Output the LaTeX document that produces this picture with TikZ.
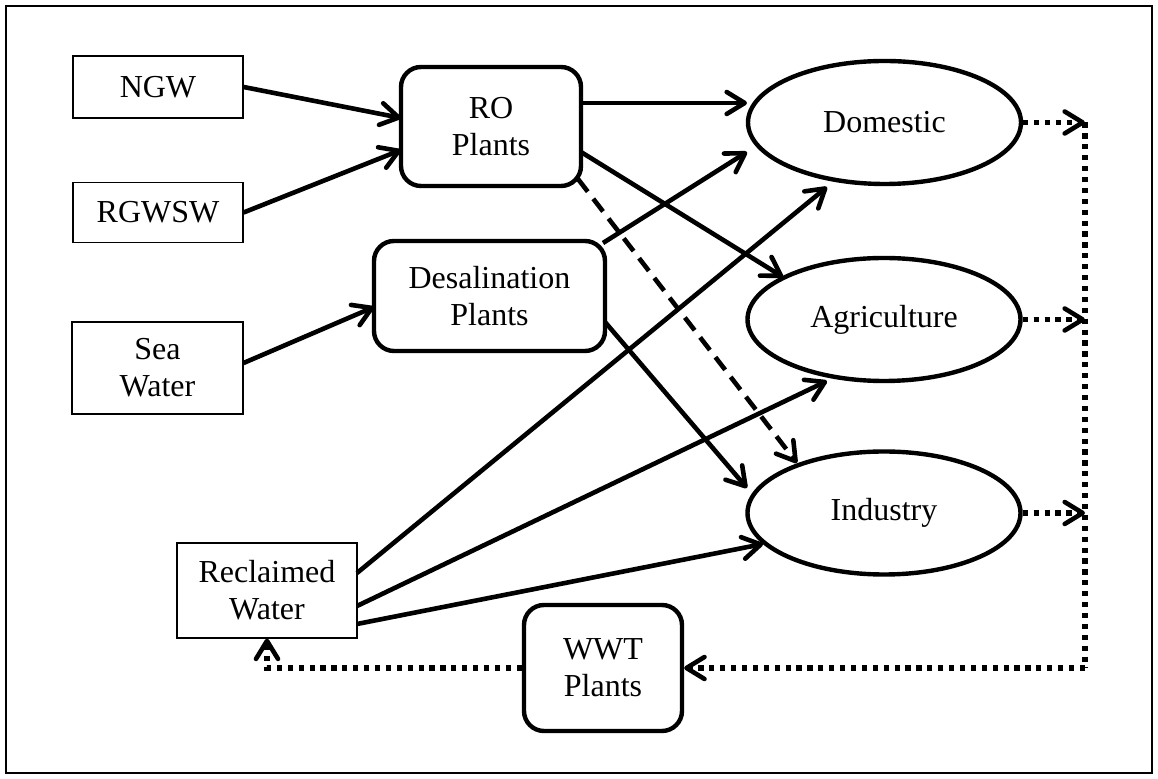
\documentclass[tikz,border=0pt]{standalone}
\usepackage{fontspec}
\setmainfont{Liberation Serif}
\usetikzlibrary{arrows.meta,shapes.geometric,calc}
\begin{document}
\begin{tikzpicture}[x=0.5pt,y=-0.5pt,
  font=\fontsize{16}{18.4}\selectfont,
  thinbox/.style={draw,line width=0.6pt,inner sep=0pt,align=center},
  plantbox/.style={draw,line width=2.2pt,rounded corners=10pt,inner sep=0pt,align=center},
  usebox/.style={draw,ellipse,line width=2.2pt,inner sep=0pt,minimum width=136.5pt,minimum height=61.5pt},
  flow/.style={line width=2.3pt,-{Straight Barb[length=9pt,width=11pt,round]}},
  dflow/.style={flow,dash pattern=on 8pt off 4.5pt},
  rflow/.style={line width=2.6pt,dash pattern=on 2.6pt off 2.85pt},
  rarrow/.style={rflow,-{Straight Barb[length=9pt,width=11pt,round,line width=2.3pt]}}
]
\useasboundingbox (0,0) rectangle (1158,779);
\draw[line width=0.6pt] (6,6) rectangle (1152,773);

\node[thinbox,minimum width=85pt,minimum height=31pt] (NGW) at (158,87) {NGW};
\node[thinbox,minimum width=85pt,minimum height=30pt] (RGW) at (158,212.5) {RGWSW};
\node[thinbox,minimum width=85.5pt,minimum height=46pt] (Sea) at (157.5,368) {Sea\\Water};
\node[thinbox,minimum width=90pt,minimum height=47.5pt] (Rec) at (267,590.5) {Reclaimed\\Water};

\node[plantbox,minimum width=90pt,minimum height=59.5pt] (RO) at (491,126.5) {RO\\Plants};
\node[plantbox,minimum width=115.5pt,minimum height=55pt] (Des) at (489.5,296) {Desalination\\Plants};
\node[plantbox,minimum width=79pt,minimum height=63pt] (WWT) at (603,668) {WWT\\Plants};

\node[usebox] (Dom) at (884.5,122.5) {Domestic};
\node[usebox] (Agr) at (884,319.5) {Agriculture};
\node[usebox] (Ind) at (884,513) {Industry};

% sources to plants
\draw[flow] (NGW.east) -- ($(RO)+(-90,-8.5)$);
\draw[flow] (RGW.east) -- ($(RO)+(-90,23.5)$);
\draw[flow] ($(Sea.east)+(0,-5)$) -- ($(Des)+(-115.5,11)$);

% plants to uses
\draw[flow] ($(RO)+(90,-23.5)$) -- ($(Dom)+(-137.5,-19.5)$);
\draw[flow] ($(RO)+(90,25.5)$) -- ($(Agr)+(-101,-42.5)$);
\draw[dflow] ($(RO)+(87,52.5)$) -- ($(Ind)+(-87,-50)$);
\draw[flow] ($(Des)+(113.5,-53)$) -- ($(Dom)+(-137.5,29.5)$);
\draw[flow] ($(Des)+(115.5,26)$) -- ($(Ind)+(-137,-25)$);

% reclaimed water to uses
\draw[flow] ($(Rec)+(90,-17.5)$) -- ($(Dom)+(-57.5,64.5)$);
\draw[flow] ($(Rec)+(90,15.5)$) -- ($(Agr)+(-57,61.5)$);
\draw[flow] ($(Rec)+(90,33.5)$) -- ($(Ind)+(-121,31)$);

% return flows
\coordinate (top) at (1085,122.5);
\coordinate (bot) at (1085,668);
\draw[rarrow] (Dom.east) -- (Dom.east -| bot);
\draw[rarrow] (Agr.east) -- (Agr.east -| bot);
\draw[rarrow] (Ind.east) -- (Ind.east -| bot);
\draw[rflow] (top) -- (bot);
\draw[rarrow] (bot) -- (WWT.east);
\draw[rarrow] (WWT.west) -- (WWT.west -| Rec.south) -- (Rec.south);
\end{tikzpicture}
\end{document}
